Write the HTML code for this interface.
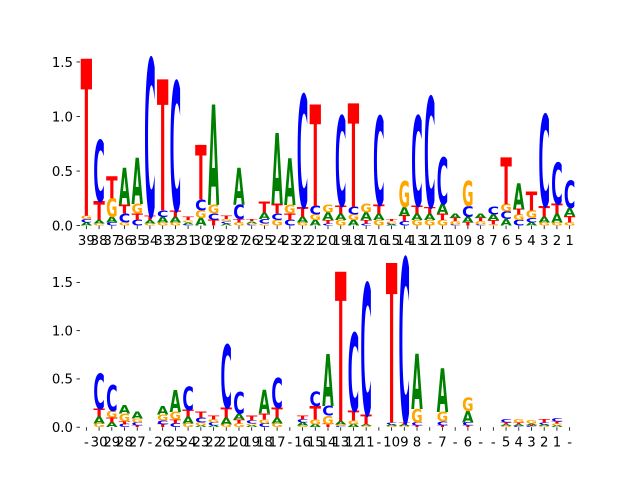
<!DOCTYPE html>
<html><head><meta charset="utf-8"><style>
html,body{margin:0;padding:0;background:#fff;}
svg text{font-family:"DejaVu Sans","Liberation Sans",sans-serif;}
</style></head><body>
<svg id="chart" width="640" height="480" viewBox="0 0 640 480" xmlns="http://www.w3.org/2000/svg">
<rect width="640" height="480" fill="#fff"/>
</svg>
<script>
const topLabels = ["39","38","37","36","35","34","33","32","31","30","29","28","27","26","25","24","23","22","21","20","19","18","17","16","15","14","13","12","11","10","9","8","7","6","5","4","3","2","1"];
const topA = [.03,.03,.05,.34,.42,.03,.05,.05,.02,.07,.92,.02,.34,.02,.06,.65,.43,.05,.05,.07,.06,.05,.07,.06,.01,.08,.06,.06,.09,.04,.05,.04,.05,.06,.24,.03,.05,.08,.07];
const topC = [.03,.56,.03,.08,.05,1.44,.06,1.18,.01,.10,.06,.02,.13,.01,.04,.06,.05,1.03,.08,.02,.82,.07,.02,.81,.01,.04,.82,1.01,.43,.01,.10,.01,.07,.07,.05,.04,.84,.38,.25];
const topG = [.03,.02,.17,.03,.09,.02,.03,.03,.02,.07,.08,.02,.03,.01,.02,.05,.08,.03,.05,.07,.05,.05,.08,.05,.02,.24,.05,.05,.05,.03,.23,.03,.01,.07,.05,.07,.03,.03,.03];
const topT = [1.44,.17,.20,.08,.06,.04,1.20,.06,.03,.50,.05,.03,.03,.02,.10,.09,.06,.09,.93,.03,.07,.95,.03,.08,.02,.05,.07,.06,.06,.03,.03,.03,.04,.43,.05,.17,.10,.09,.06];
const topTicks = ["0.0","0.5","1.0","1.5"];
const topTickVals = [0,0.5,1.0,1.5];

const botLabels = ["-","30","29","28","27","-","26","25","24","23","22","21","20","19","18","17","-","16","15","14","13","12","11","-","10","9","8","-","7","-","6","-","-","5","4","3","2","1","-"];
const botA = [0,.07,.05,.09,.07,0,.09,.23,.07,.02,.02,.07,.06,.02,.24,.06,0,.03,.03,.54,.03,.03,.02,0,.02,.02,.57,0,.45,0,.12,0,0,.02,.02,.02,.02,.02,0];
const botC = [0,.36,.27,.03,.03,0,.04,.04,.24,.05,.03,.65,.22,.03,.04,.31,0,.03,.15,.10,.01,.81,1.36,0,.02,1.70,.03,0,.04,0,.03,0,0,.03,.01,.01,.02,.03,0];
const botG = [0,.04,.07,.08,.04,0,.06,.08,.04,.03,.03,.03,.04,.02,.04,.04,0,.02,.05,.09,.02,.04,.01,0,.01,.01,.14,0,.10,0,.14,0,0,.01,.03,.03,.01,.02,0];
const botT = [0,.08,.05,.03,.02,0,.03,.04,.07,.06,.04,.10,.04,.05,.06,.10,0,.04,.14,.03,1.55,.10,.10,0,1.65,.02,.02,0,.02,0,.02,0,0,.02,.02,.01,.03,.02,0];
const botTicks = ["0.0","0.5","1.0","1.5"];
const botTickVals = [0,0.5,1.0,1.5];

const NS = "http://www.w3.org/2000/svg";
const svg = document.getElementById("chart");
const COLORS = {A:"#008000",C:"#0000ff",G:"#ffa500",T:"#ff0000"};
const GW = {A:77.4,C:73.4,G:82.1,T:68.2};

function panel(name, top, bottom, ymax, labels, A, C, G, T, ticks, tickVals) {
  const left = 80, right = 576, n = labels.length;
  const g = document.createElementNS(NS, "g");
  
  
  svg.appendChild(g);
  const step = (right - left) / n;
  const xs = i => left + step * (i + 0.5);
  const ys = v => bottom - (bottom - top) * v / ymax;
  // y ticks
  for (let k = 0; k < ticks.length; k++) {
    const y = ys(tickVals[k]);
    const l = document.createElementNS(NS, "line");
    
    
    l.setAttribute("x1", left - 3.5); l.setAttribute("x2", left);
    l.setAttribute("y1", y); l.setAttribute("y2", y);
    l.setAttribute("stroke", "#000"); l.setAttribute("stroke-width", "0.8");
    g.appendChild(l);
    const t = document.createElementNS(NS, "text");
    
    
    t.setAttribute("x", left - 7); t.setAttribute("y", y + 4.8);
    t.setAttribute("text-anchor", "end"); t.setAttribute("font-size", "13.3");
    t.textContent = ticks[k];
    g.appendChild(t);
  }
  const w = step * 0.9;
  for (let i = 0; i < n; i++) {
    const x = xs(i);
    const l = document.createElementNS(NS, "line");
    
    
    l.setAttribute("x1", x); l.setAttribute("x2", x);
    l.setAttribute("y1", bottom); l.setAttribute("y2", bottom + 3.5);
    l.setAttribute("stroke", "#000"); l.setAttribute("stroke-width", "0.8");
    g.appendChild(l);
    const t = document.createElementNS(NS, "text");
    
    
    t.setAttribute("x", x); t.setAttribute("y", bottom + 19.5);
    t.setAttribute("text-anchor", "middle"); t.setAttribute("font-size", "13.3");
    t.textContent = labels[i];
    g.appendChild(t);
    const stack = [["A", A[i]], ["C", C[i]], ["G", G[i]], ["T", T[i]]].filter(d => d[1] > 0);
    stack.sort((a, b) => a[1] - b[1]);
    let cum = 0;
    for (const [L, h] of stack) {
      const yb = ys(cum), yt = ys(cum + h);
      const hp = yb - yt;
      cum += h;
      const tx = document.createElementNS(NS, "text");
      
      
      tx.setAttribute("x", 0); tx.setAttribute("y", 0);
      tx.setAttribute("font-size", "100");
      tx.setAttribute("font-weight", "bold");
      tx.setAttribute("textLength", GW[L]);
      tx.setAttribute("lengthAdjust", "spacingAndGlyphs");
      tx.setAttribute("fill", COLORS[L]);
      tx.setAttribute("transform", `translate(${x - w / 2},${yb}) scale(${w / GW[L]},${hp / 72.9})`);
      tx.textContent = L;
      g.appendChild(tx);
    }
  }
}
panel("top-logo-panel", 57.6, 225.6, 1.54, topLabels, topA, topC, topG, topT, topTicks, topTickVals);
panel("bottom-logo-panel", 259.2, 427.2, 1.74, botLabels, botA, botC, botG, botT, botTicks, botTickVals);
</script>
</body></html>
